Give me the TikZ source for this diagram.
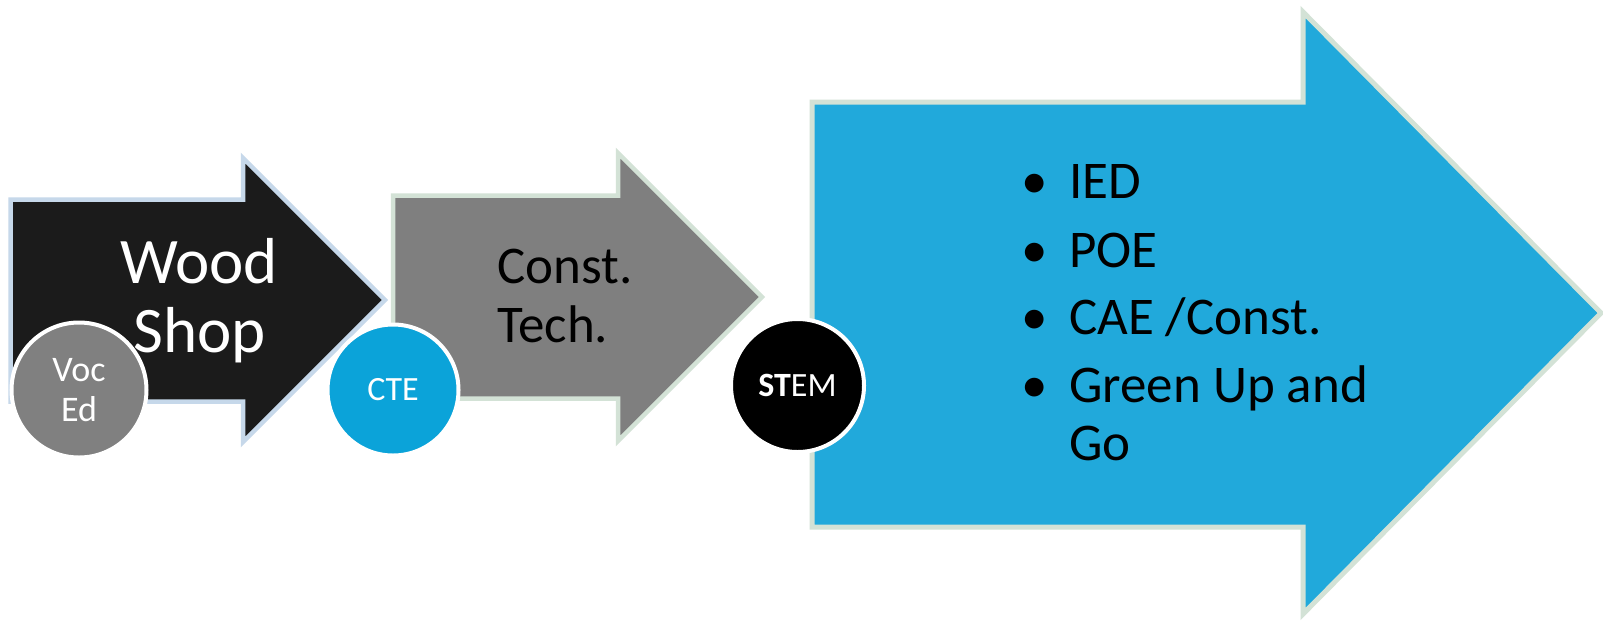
\documentclass[tikz,border=0pt]{standalone}
\usepackage{fontspec}
\setmainfont{Carlito}
\definecolor{arrowblack}{HTML}{1B1B1B}
\definecolor{arrowgray}{HTML}{7F7F7F}
\definecolor{arrowblue}{HTML}{21A9DB}
\definecolor{edgeblue}{HTML}{C6D8EA}
\definecolor{edgegreen}{HTML}{D3E2D6}
\definecolor{vocgray}{HTML}{808080}
\definecolor{ctecyan}{HTML}{0BA3D9}
\begin{document}
\begin{tikzpicture}[x=1pt,y=-1pt,
  bigarrow/.style={line width=4.5pt, line join=miter, miter limit=10},
  badge/.style={circle, draw=white, line width=4pt, inner sep=0pt, text=white, align=center},
  txt/.style={inner sep=0pt, anchor=base},
  txtl/.style={inner sep=0pt, anchor=base west},
  listfont/.style={font=\fontsize{53}{62}\selectfont}
]
\useasboundingbox (0,0) rectangle (1603,622);
\fill[white] (0,0) rectangle (1603,622);

% arrows
\draw[bigarrow, fill=arrowblack, draw=edgeblue]
  (10.5,199.5) -- (243,199.5) -- (243,158) -- (385,300) -- (243,442) -- (243,401.5) -- (10.5,401.5) -- cycle;
\draw[bigarrow, fill=arrowgray, draw=edgegreen]
  (393,195.5) -- (618,195.5) -- (618,153) -- (762,297) -- (618,441) -- (618,398.5) -- (393,398.5) -- cycle;
\draw[bigarrow, line width=5pt, fill=arrowblue, draw=edgegreen]
  (812,102) -- (1303,102) -- (1303,12) -- (1601,313) -- (1303,614) -- (1303,527) -- (812,527) -- cycle;

% arrow texts
\node[txt, text=white, font=\fontsize{65}{70}\selectfont] (wood) at (199,283) {Wood};
\node[txt, text=white, font=\fontsize{65}{70}\selectfont] (shop) at (200,352) {Shop};
\node[txtl, listfont] (const) at (497,283) {Const.};
\node[txtl, listfont] (tech) at (497,342) {Tech.};

% bullet list
\node[txt, listfont] (b1) at (1034.5,198) {•};
\node[txtl, listfont] (ied) at (1069,198) {IED};
\node[txt, listfont] (b2) at (1034.5,267) {•};
\node[txtl, listfont] (poe) at (1069,267) {POE};
\node[txt, listfont] (b3) at (1034.5,334) {•};
\node[txtl, listfont] (cae) at (1069,334) {CAE /Const.};
\node[txt, listfont] (b4) at (1034.5,402) {•};
\node[txtl, listfont] (green) at (1069,402) {Green Up and};
\node[txtl, listfont] (go) at (1069,460) {Go};

% badges
\node[badge, fill=vocgray, minimum size=135pt, font=\fontsize{36}{40}\selectfont] (voc) at (79,390) {Voc\\Ed};
\node[badge, fill=ctecyan, minimum size=131pt, font=\fontsize{34}{40}\selectfont] (cte) at (393,390) {CTE};
\node[badge, fill=black, minimum size=133pt, font=\fontsize{34}{40}\selectfont] (stem) at (797.5,385.5) {\textbf{ST}EM};
\end{tikzpicture}
\end{document}
